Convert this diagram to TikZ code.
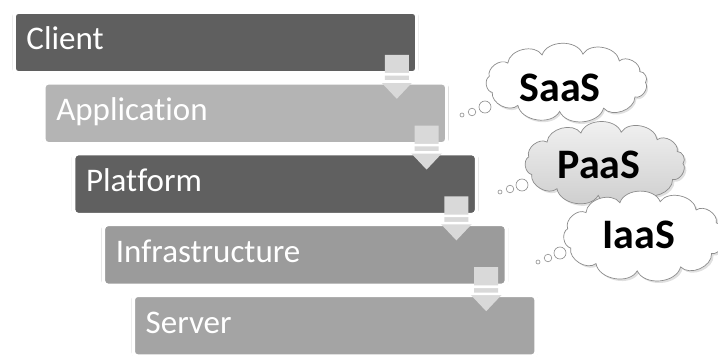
\documentclass[tikz,border=0pt]{standalone}
\usepackage{fontspec}
\setmainfont{Carlito}[Ligatures=NoCommon]
\usetikzlibrary{calc,shadows}
\definecolor{cA}{HTML}{5F5F5F}
\definecolor{cB}{HTML}{B4B4B4}
\definecolor{cC}{HTML}{606060}
\definecolor{cD}{HTML}{9B9B9B}
\definecolor{cE}{HTML}{A4A4A4}
\definecolor{arrowgray}{HTML}{D9D9D9}
\definecolor{edgegray}{HTML}{B4B4B4}
\definecolor{cloudedge}{HTML}{8C8C8C}
% cloud outline: centre x, centre y, half axes a, b
\def\cloudshape#1#2#3#4{({#1+#3},{#2}) \foreach \t in {30,62,95,128,160,192,222,252,282,312,338,360} { to[bend left=70] ({#1+#3*cos(\t)},{#2+#4*sin(\t)}) } -- cycle}
\begin{document}
\begin{tikzpicture}[x=1pt,y=-1pt,
  layerbox/.style={rectangle, rounded corners=4pt, minimum height=60pt,
    text width=378pt, inner xsep=12pt, inner ysep=0pt, align=left,
    text height=22pt, text depth=7pt, text=white,
    font=\fontsize{33}{33}\selectfont,
    draw=white, line width=2.6pt,
    preaction={draw=edgegray, line width=4.4pt},
    drop shadow={shadow xshift=0pt, shadow yshift=-2pt, opacity=0.2}},
  layeredge/.style={draw=white, line width=2.6pt, rounded corners=4pt},
  blockarrow/.style={fill=arrowgray},
  cloudline/.style={draw=cloudedge, line width=0.7pt},
  cloudshadow/.style={fill=black, opacity=0.12},
  cloudtext/.style={text=black, inner sep=0pt, font=\bfseries\fontsize{42}{42}\selectfont},
  bubble/.style={draw=cloudedge, line width=0.6pt, fill=white}
]
\useasboundingbox (0,0) rectangle (718,361);
\fill[white] (0,0) rectangle (718,361);

% layers
\node[layerbox, fill=cA] (client) at (215.5,42.5) {Client};
\node[layerbox, fill=cB] (app)    at (245.3,113.3) {Application};
\node[layerbox, fill=cC] (plat)   at (275.1,184.1) {Platform};
\node[layerbox, fill=cD] (infra)  at (304.9,254.9) {Infrastructure};
\node[layerbox, fill=cE] (server) at (334.7,325.7) {Server};

% block arrows between layers
\foreach \a in {client,app,plat,infra}{
  \fill[blockarrow] ($(\a.south east)+(-33,-19)$) -- ($(\a.south east)+(-9,-19)$)
    -- ($(\a.south east)+(-9,7)$) -- ($(\a.south east)+(-4,7)$)
    -- ($(\a.south east)+(-21,25)$) -- ($(\a.south east)+(-38,7)$)
    -- ($(\a.south east)+(-33,7)$) -- cycle;
}
% redraw layer edges above arrows
\foreach \a in {client,app,plat,infra,server}{
  \draw[layeredge] ($(\a.north west)+(0.5,-0.5)$) rectangle ($(\a.south east)+(-0.5,0.5)$);
}

% thought bubbles
\draw[bubble] (462,115) circle (2pt);
\draw[bubble] (472,112) circle (3.8pt);
\draw[bubble] (485,107) circle (6pt);
\draw[bubble] (500,192) circle (2pt);
\draw[bubble] (510,189) circle (3.8pt);
\draw[bubble] (522,185) circle (6pt);
\draw[bubble] (538,262) circle (2pt);
\draw[bubble] (548,258) circle (3.8pt);
\draw[bubble] (560,253) circle (6pt);

% clouds
\path[cloudshadow] \cloudshape{568}{84.5}{79}{29};
\path[cloudline, fill=white] \cloudshape{566.5}{82.5}{79}{29};
\node[cloudtext] (saas) at (560,88) {SaaS};

\path[cloudshadow] \cloudshape{607}{165.5}{78}{32};
\path[cloudline, top color=gray!10, bottom color=gray!40] \cloudshape{605}{163.5}{78}{32};
\node[cloudtext] (paas) at (599,165) {PaaS};

\path[cloudshadow] \cloudshape{646}{238}{78}{35};
\path[cloudline, fill=white] \cloudshape{644}{236}{78}{35};
\node[cloudtext] (iaas) at (639,235) {IaaS};
\end{tikzpicture}
\end{document}
